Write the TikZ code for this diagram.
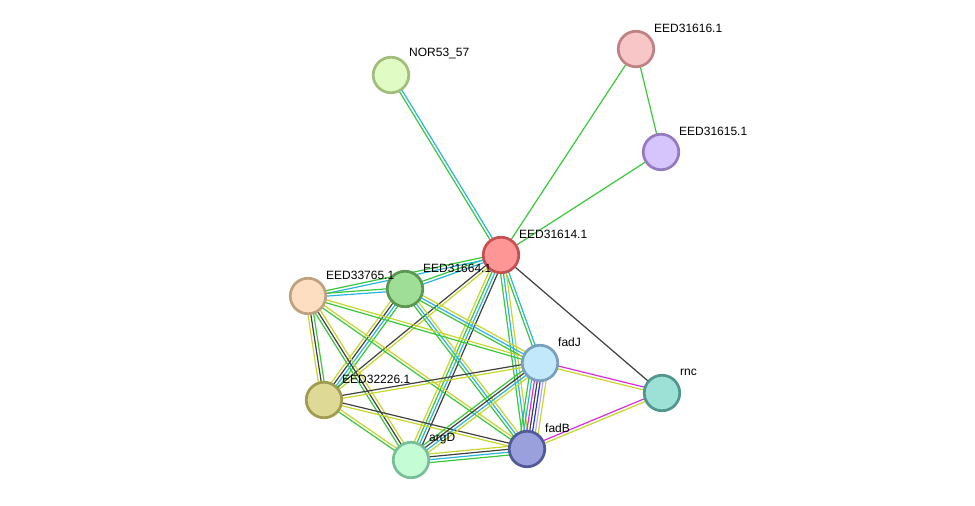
\documentclass[tikz,border=0pt]{standalone}
\usepackage{fontspec}
\setmainfont{Liberation Sans}
\usetikzlibrary{calc,backgrounds}
\definecolor{eg}{RGB}{56,200,56}
\definecolor{ec}{RGB}{40,182,222}
\definecolor{ek}{RGB}{64,64,64}
\definecolor{ey}{RGB}{198,214,44}
\definecolor{em}{RGB}{220,44,220}
\definecolor{eb}{RGB}{44,44,236}
\definecolor{el}{RGB}{172,172,250}
\tikzset{
  prot/.style={circle, minimum size=35.5pt, inner sep=0pt, line width=2.7pt},
  lbl/.style={anchor=west, inner sep=1pt, font=\fontsize{12}{14}\selectfont},
}
\newcommand\bund[4]{%
  \foreach \c [count=\i] in {#4} {%
    \pgfmathsetmacro\k{(\i-(#3+1)/2)*2.9}%
    \draw[color=\c, line width=1.2pt] ($(#1.center)!\k pt!90:(#2.center)$) -- ($(#2.center)!\k pt!-90:(#1.center)$);
  }}
\begin{document}
\begin{tikzpicture}[x=1pt,y=-1pt]
\useasboundingbox (0,0) rectangle (975,506);
\node[prot, fill={rgb,255:red,224;green,252;blue,196}, draw={rgb,255:red,160;green,190;blue,122}] (N) at (391,75) {};
\node[prot, fill={rgb,255:red,248;green,198;blue,198}, draw={rgb,255:red,190;green,130;blue,130}] (P) at (636,49) {};
\node[prot, fill={rgb,255:red,214;green,196;blue,252}, draw={rgb,255:red,150;green,122;blue,192}] (Q) at (661,152) {};
\node[prot, fill={rgb,255:red,255;green,150;blue,150}, draw={rgb,255:red,198;green,80;blue,80}] (A) at (501,255) {};
\node[prot, fill={rgb,255:red,253;green,222;blue,192}, draw={rgb,255:red,190;green,160;blue,130}] (C) at (308,296) {};
\node[prot, fill={rgb,255:red,158;green,222;blue,150}, draw={rgb,255:red,90;green,150;blue,80}] (B) at (405,289) {};
\node[prot, fill={rgb,255:red,194;green,232;blue,252}, draw={rgb,255:red,120;green,160;blue,190}] (G) at (540,363) {};
\node[prot, fill={rgb,255:red,156;green,224;blue,214}, draw={rgb,255:red,80;green,150;blue,140}] (R) at (662,393) {};
\node[prot, fill={rgb,255:red,222;green,218;blue,150}, draw={rgb,255:red,160;green,155;blue,80}] (D) at (324,400) {};
\node[prot, fill={rgb,255:red,196;green,252;blue,214}, draw={rgb,255:red,120;green,190;blue,150}] (E) at (411,460) {};
\node[prot, fill={rgb,255:red,154;green,160;blue,220}, draw={rgb,255:red,80;green,90;blue,150}] (F) at (527,449) {};
\begin{scope}[on background layer]
\bund{N}{A}{2}{eg,ec}
\bund{P}{A}{1}{eg}
\bund{P}{Q}{1}{eg}
\bund{Q}{A}{1}{eg}
\bund{A}{R}{1}{ek}
\bund{A}{B}{2}{eg,ec}
\bund{A}{C}{2}{eg,ec}
\bund{A}{D}{2}{ek,ey}
\bund{A}{E}{4}{ey,eg,ec,ek}
\bund{A}{G}{2}{eg,ec}
\bund{A}{F}{3}{eg,ec,ey}
\bund{B}{C}{2}{eg,ec}
\bund{B}{G}{3}{eg,ec,ey}
\bund{B}{F}{3}{eg,ec,ey}
\bund{B}{D}{4}{ey,ek,ec,eg}
\bund{C}{D}{3}{ey,ek,eg}
\bund{C}{E}{3}{eg,ek,ey}
\bund{C}{G}{2}{eg,ey}
\bund{C}{F}{2}{eg,ey}
\bund{D}{G}{2}{ey,ek}
\bund{D}{F}{2}{ey,ek}
\bund{D}{E}{2}{eg,ey}
\bund{E}{G}{4}{ey,ec,ek,eg}
\bund{E}{F}{4}{eg,ec,ek,ey}
\bund{G}{F}{7}{eg,ec,em,ek,eb,el,ey}
\bund{G}{R}{2}{ey,em}
\bund{F}{R}{2}{ey,em}
\end{scope}
\node[lbl] (lN) at ($(N)+(17,-21)$) {NOR53\_57};
\node[lbl] (lP) at ($(P)+(17,-21)$) {EED31616.1};
\node[lbl] (lQ) at ($(Q)+(17,-21)$) {EED31615.1};
\node[lbl] (lA) at ($(A)+(17,-21)$) {EED31614.1};
\node[lbl] (lC) at ($(C)+(17,-21)$) {EED33765.1};
\node[lbl] (lB) at ($(B)+(17,-21)$) {EED31664.1};
\node[lbl] (lG) at ($(G)+(17,-21)$) {fadJ};
\node[lbl] (lR) at ($(R)+(17,-21)$) {rnc};
\node[lbl] (lD) at ($(D)+(17,-21)$) {EED32226.1};
\node[lbl] (lE) at ($(E)+(17,-21)$) {argD};
\node[lbl] (lF) at ($(F)+(17,-21)$) {fadB};
\end{tikzpicture}
\end{document}
